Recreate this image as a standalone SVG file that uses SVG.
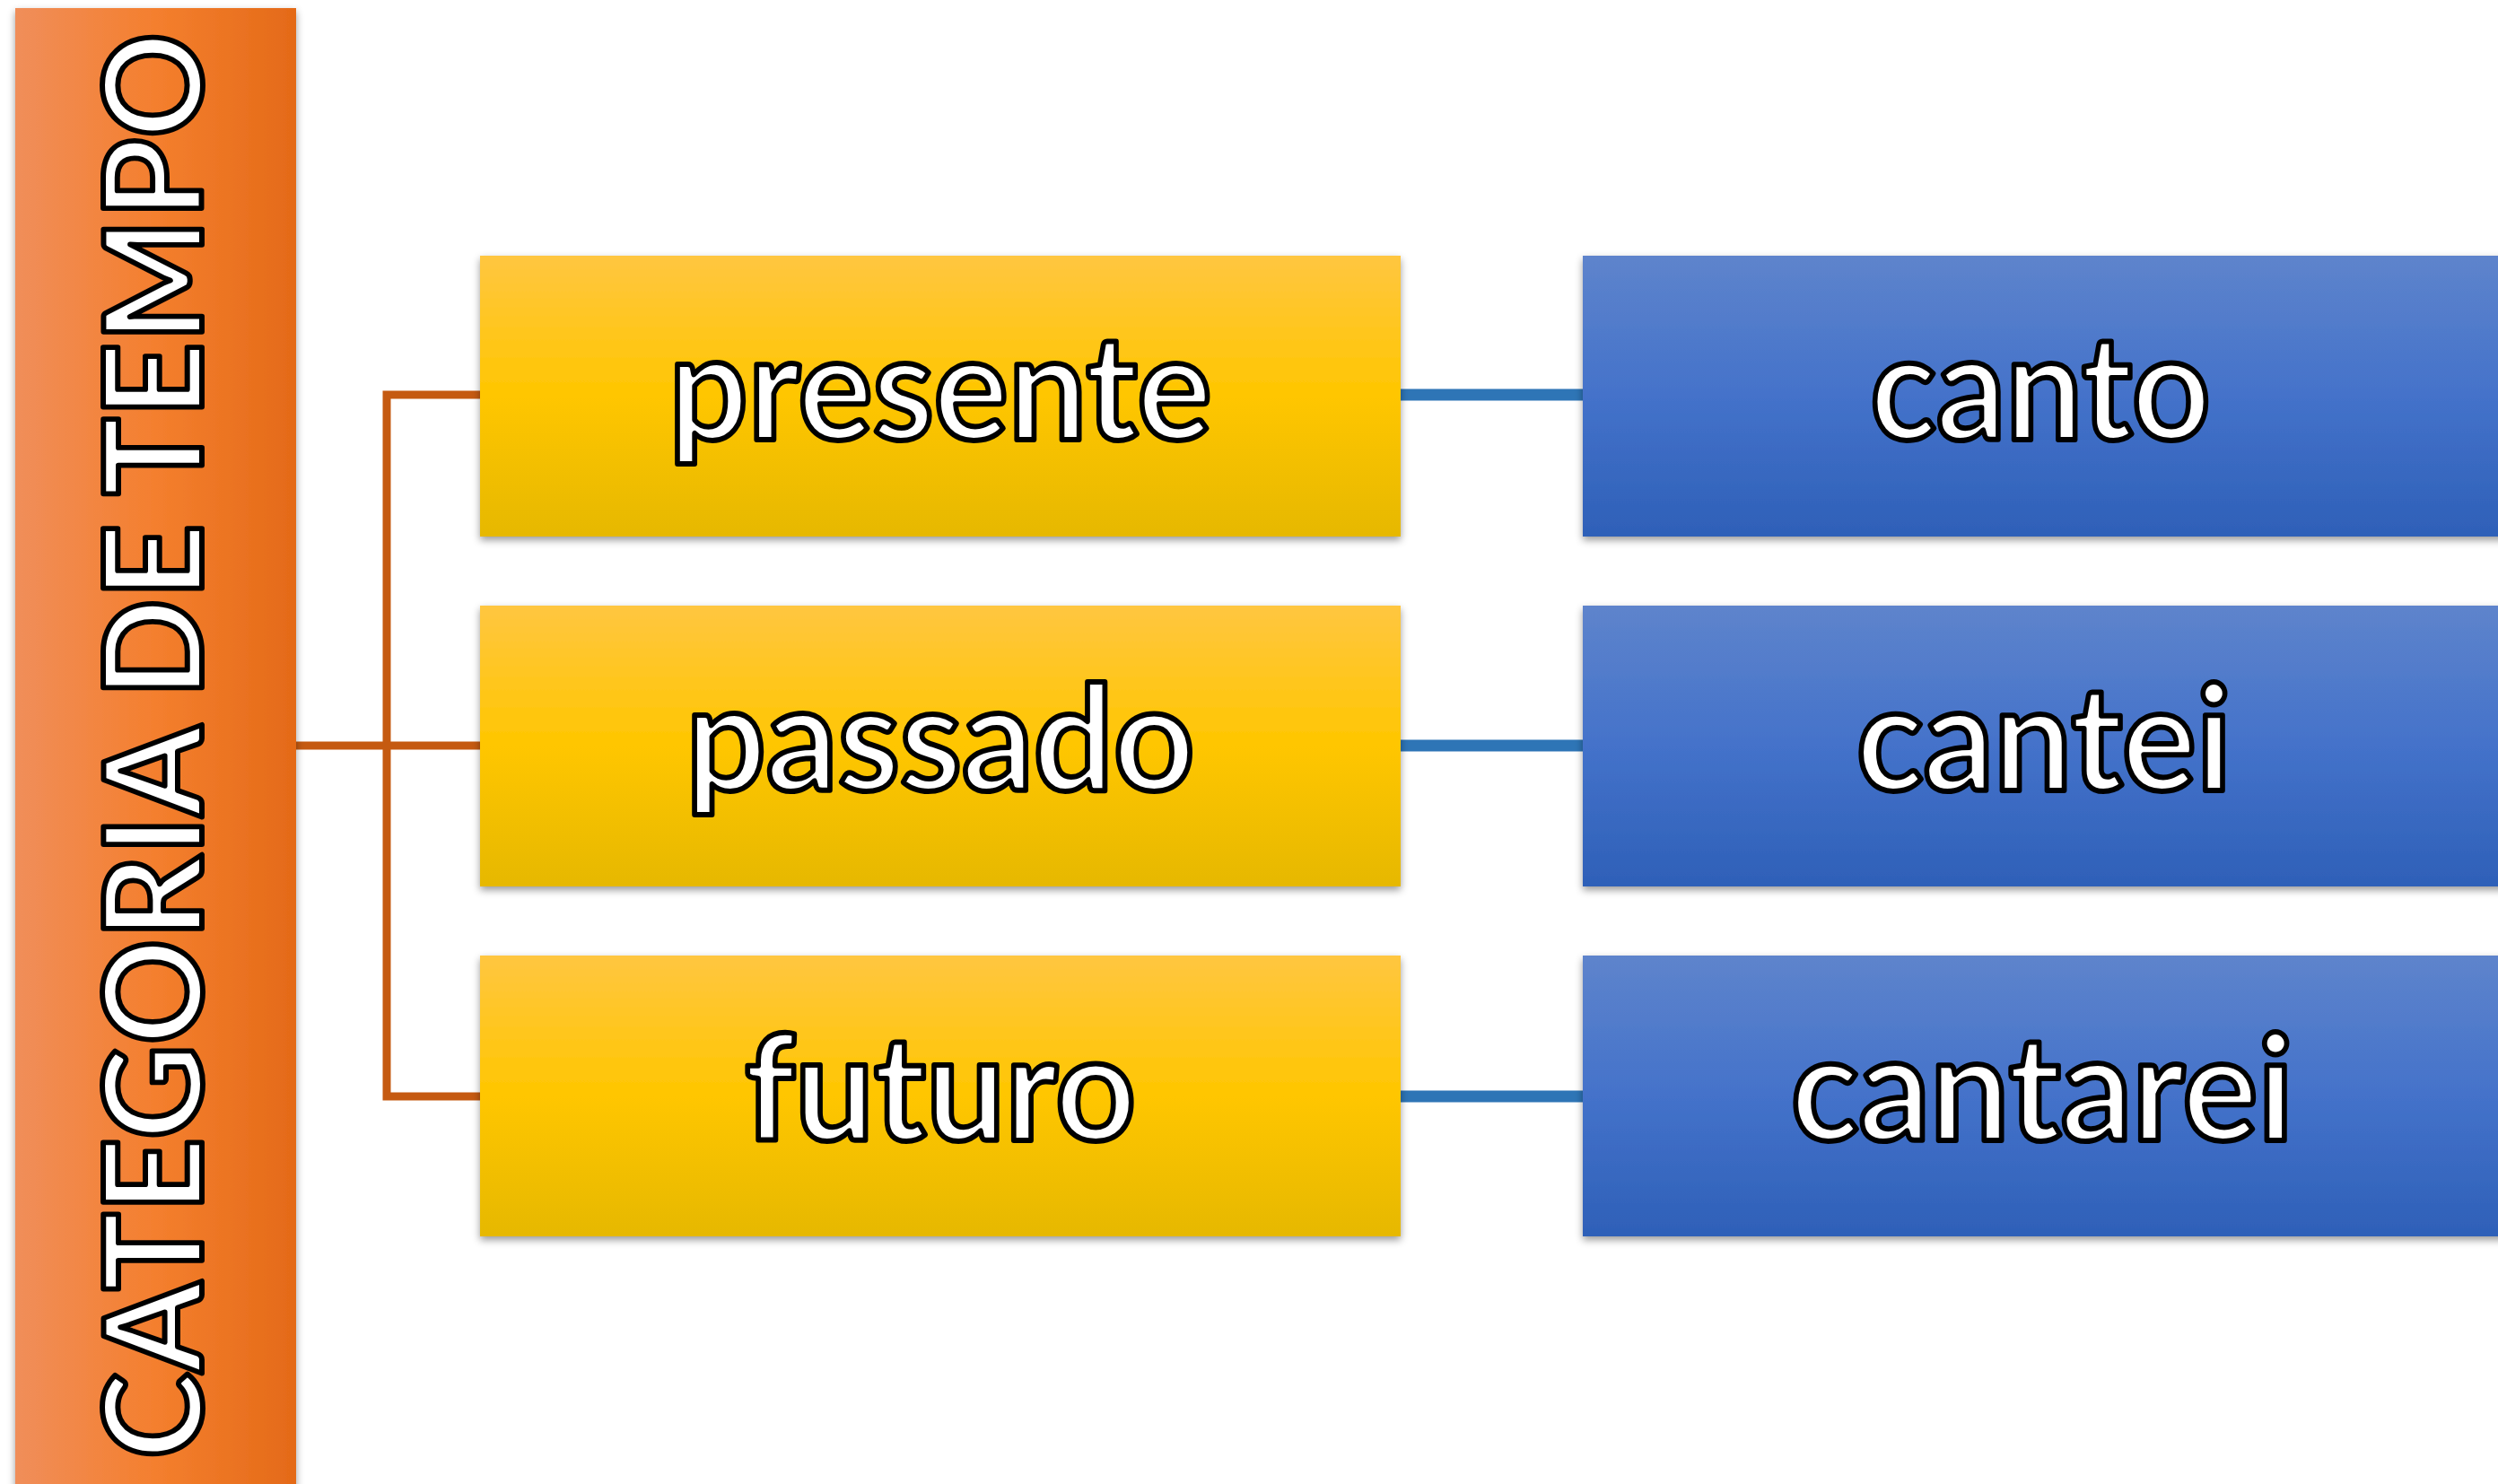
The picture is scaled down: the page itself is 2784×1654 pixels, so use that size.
<svg xmlns="http://www.w3.org/2000/svg" width="2784" height="1654" viewBox="0 0 2784 1654">
<defs>
<linearGradient id="gOrange" x1="0" y1="0" x2="1" y2="0">
<stop offset="0" stop-color="#F08E5A"/>
<stop offset="0.5" stop-color="#F47F2E"/>
<stop offset="1" stop-color="#E46A18"/>
</linearGradient>
<linearGradient id="gYellow" x1="0" y1="0" x2="0" y2="1">
<stop offset="0" stop-color="#FFC640"/>
<stop offset="0.5" stop-color="#FFC600"/>
<stop offset="1" stop-color="#E6B800"/>
</linearGradient>
<linearGradient id="gBlue" x1="0" y1="0" x2="0" y2="1">
<stop offset="0" stop-color="#5E84CC"/>
<stop offset="0.5" stop-color="#4472CA"/>
<stop offset="1" stop-color="#2E60B8"/>
</linearGradient>
<filter id="shadow" x="-10%" y="-10%" width="120%" height="130%">
<feDropShadow dx="0" dy="4" stdDeviation="4" flood-color="#000" flood-opacity="0.4"/>
</filter>
</defs>
<style>
.lbl{font-family:"Lato","Open Sans","Liberation Sans",sans-serif;font-weight:bold;fill:#fff;stroke:#000;stroke-width:6;stroke-linejoin:round;text-anchor:middle}
.big{font-size:163px}
.vert{font-size:152px}
.oc{stroke:#C55A11;stroke-width:9;fill:none}
.bc{stroke:#2E75B6;stroke-width:13;fill:none}
</style>
<rect width="2784" height="1654" fill="#fff"/>
<g id="connectors">
<polyline class="oc" points="330,831 431,831"/>
<polyline class="oc" points="535,440 431,440 431,1222 535,1222"/>
<line class="oc" x1="431" y1="831" x2="535" y2="831"/>
<line class="bc" x1="1561" y1="440" x2="1764" y2="440"/>
<line class="bc" x1="1561" y1="831" x2="1764" y2="831"/>
<line class="bc" x1="1561" y1="1222" x2="1764" y2="1222"/>
</g>
<g id="node-categoria">
<rect x="17" y="9" width="313" height="1660" fill="url(#gOrange)" filter="url(#shadow)"/>
<text class="lbl vert" transform="translate(225,831) rotate(-90)" x="0" y="0" textLength="1590" lengthAdjust="spacingAndGlyphs">CATEGORIA DE TEMPO</text>
</g>
<g id="node-presente">
<rect x="535" y="285" width="1026" height="313" fill="url(#gYellow)" filter="url(#shadow)"/>
<text class="lbl big" x="1048" y="490" textLength="605" lengthAdjust="spacingAndGlyphs">presente</text>
</g>
<g id="node-passado">
<rect x="535" y="675" width="1026" height="313" fill="url(#gYellow)" filter="url(#shadow)"/>
<text class="lbl big" x="1048" y="881" textLength="567" lengthAdjust="spacingAndGlyphs">passado</text>
</g>
<g id="node-futuro">
<rect x="535" y="1065" width="1026" height="313" fill="url(#gYellow)" filter="url(#shadow)"/>
<text class="lbl big" x="1048" y="1271" textLength="436" lengthAdjust="spacingAndGlyphs">futuro</text>
</g>
<g id="node-canto">
<rect x="1764" y="285" width="1040" height="313" fill="url(#gBlue)" filter="url(#shadow)"/>
<text class="lbl big" x="2274" y="490" textLength="379" lengthAdjust="spacingAndGlyphs">canto</text>
</g>
<g id="node-cantei">
<rect x="1764" y="675" width="1040" height="313" fill="url(#gBlue)" filter="url(#shadow)"/>
<text class="lbl big" x="2278" y="881" textLength="418" lengthAdjust="spacingAndGlyphs">cantei</text>
</g>
<g id="node-cantarei">
<rect x="1764" y="1065" width="1040" height="313" fill="url(#gBlue)" filter="url(#shadow)"/>
<text class="lbl big" x="2276" y="1271" textLength="560" lengthAdjust="spacingAndGlyphs">cantarei</text>
</g>
</svg>
